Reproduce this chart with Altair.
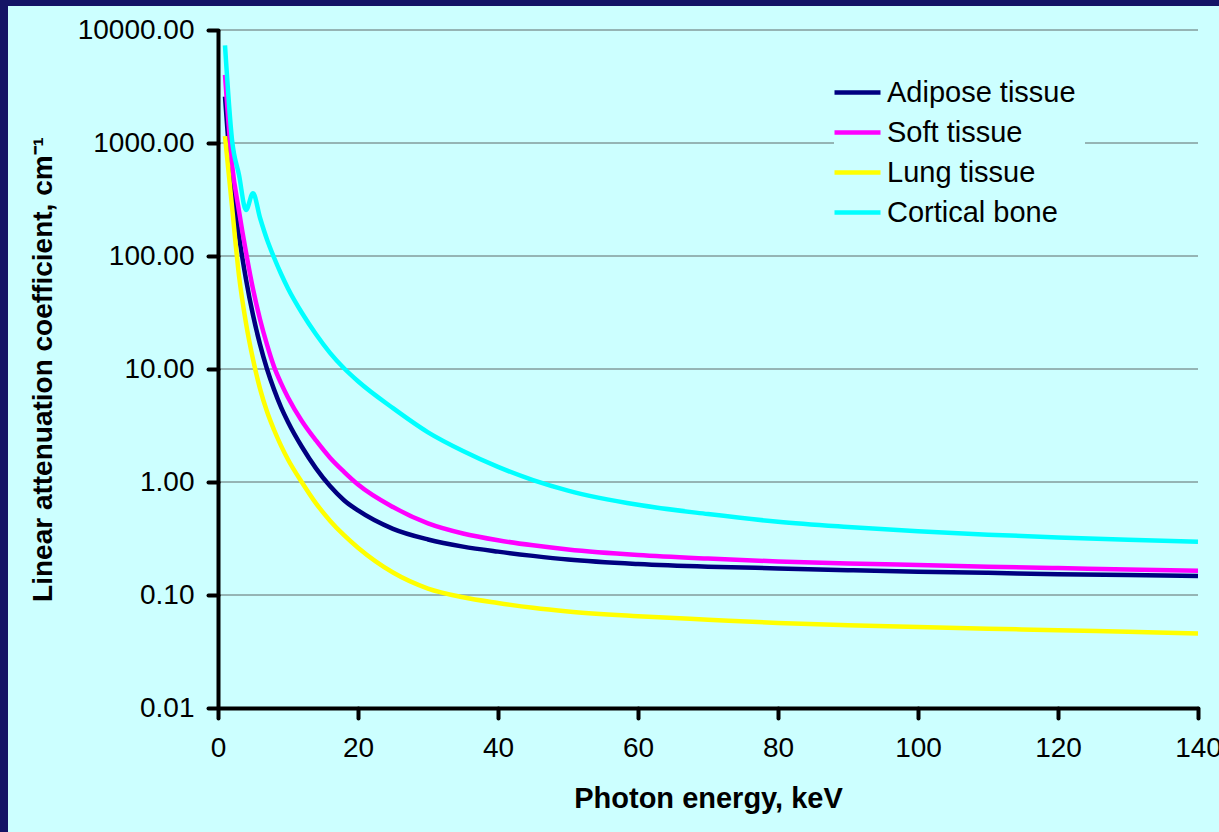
import altair as alt
import pandas as pd

# ---- data ----
energy = [1, 2, 3, 4, 5, 6, 7, 8, 9, 10, 12, 14, 16, 18, 20, 25, 30, 35, 40, 45,
          50, 60, 70, 80, 90, 100, 110, 120, 130, 140]

adipose = [2570, 430, 150, 62, 30, 16.5, 10, 6.6, 4.6, 3.4, 2.04, 1.32, 0.92, 0.69,
           0.56, 0.385, 0.31, 0.268, 0.242, 0.222, 0.206, 0.188, 0.178, 0.172, 0.166,
           0.161, 0.157, 0.153, 0.150, 0.147]

soft = [4000, 650, 250, 108, 51, 27.6, 16.4, 10.5, 7.5, 5.6, 3.45, 2.33, 1.64, 1.23,
        0.95, 0.60, 0.43, 0.35, 0.305, 0.275, 0.253, 0.226, 0.21, 0.198, 0.19,
        0.184, 0.178, 0.173, 0.168, 0.164]

lung = [1150, 275, 67, 25.5, 12.2, 6.7, 4.2, 2.9, 2.1, 1.58, 0.99, 0.647, 0.455, 0.338,
        0.262, 0.158, 0.114, 0.0955, 0.085, 0.077, 0.0715, 0.065, 0.0605, 0.0565,
        0.054, 0.052, 0.0503, 0.0488, 0.0472, 0.0457]

bone = [7300, 1070, 522, 255, 360, 218, 140, 97, 69.6, 51.6, 31.3, 20.3, 13.9, 10.15,
        7.79, 4.5, 2.75, 1.88, 1.36, 1.04, 0.84, 0.628, 0.52, 0.445, 0.40, 0.366,
        0.342, 0.323, 0.308, 0.296]

tissues = ["Adipose tissue", "Soft tissue", "Lung tissue", "Cortical bone"]
colors = ["#000080", "#FF00FF", "#FFFF00", "#00FFFF"]

x_ticks = [0, 20, 40, 60, 80, 100, 120, 140]
y_ticks = [0.01, 0.1, 1, 10, 100, 1000, 10000]
grid_values = [0.1, 1, 10, 100, 1000, 10000]

rows = []
for name, vals in zip(tissues, [adipose, soft, lung, bone]):
    for e, v in zip(energy, vals):
        rows.append({"E": e, "mu": v, "tissue": name})
df = pd.DataFrame(rows)
grid_df = pd.DataFrame({"mu": grid_values})

W, H = 980, 678
FONT = "Liberation Sans"
NAVY = "#141466"
BG = "#CCFFFF"

xscale = alt.Scale(domain=[0, 140], nice=False, zero=False)
yscale = alt.Scale(type="log", domain=[0.01, 10000], nice=False)

x_axis = alt.Axis(values=x_ticks, format="d", grid=False, zindex=1,
                  labelFont=FONT, labelFontSize=28, labelColor="black",
                  labelFlush=False, labelOverlap=False, labelPadding=16,
                  domainColor="black", domainWidth=4,
                  tickColor="black", tickWidth=4, tickSize=10, tickCap="round",
                  title="Photon energy, keV", titleFont=FONT, titleFontSize=29,
                  titleFontWeight="bold", titleColor="black", titlePadding=22)

y_axis = alt.Axis(values=y_ticks, format=".2f", grid=False, zindex=1,
                  labelFont=FONT, labelFontSize=28, labelColor="black",
                  labelOverlap=False, labelPadding=14,
                  domainColor="black", domainWidth=4,
                  tickColor="black", tickWidth=4, tickSize=10, tickCap="round",
                  title="Linear attenuation coefficient, cm\u207b\u00b9",
                  titleFont=FONT, titleFontSize=28, titleFontWeight="bold",
                  titleColor="black", titlePadding=20)

bg = alt.Chart(alt.Data(values=[{"a": 1}])).mark_rect(color=BG).encode(
    x=alt.value(-210), x2=alt.value(1001), y=alt.value(-24), y2=alt.value(802)
)

grid = alt.Chart(grid_df).mark_rule(color="#5F6B6B", strokeWidth=1).encode(
    y=alt.Y("mu:Q", scale=yscale, axis=y_axis),
    x=alt.value(0), x2=alt.value(W)
)

legend = alt.Legend(title=None, orient="none", legendX=616, legendY=39,
                    fillColor=BG, padding=9, symbolType="M-2,0H2",
                    symbolSize=529, symbolStrokeWidth=4.5,
                    labelFont=FONT, labelFontSize=29, labelColor="black",
                    labelLimit=500, labelOffset=15, rowPadding=10)

lines = alt.Chart(df).mark_line(strokeWidth=4.5, interpolate="monotone").encode(
    x=alt.X("E:Q", scale=xscale, axis=x_axis),
    y=alt.Y("mu:Q", scale=yscale, axis=y_axis),
    color=alt.Color("tissue:N", scale=alt.Scale(domain=tissues, range=colors),
                    legend=legend, sort=tissues),
)

chart = alt.layer(bg, grid, lines).properties(
    width=W, height=H,
    background=NAVY,
    padding={"left": 218, "top": 30, "right": 21, "bottom": 124},
    autosize=alt.AutoSizeParams(type="none"),
).configure_view(stroke=None)

chart.save("out.html", embed_options={"renderer": "svg", "actions": False})
